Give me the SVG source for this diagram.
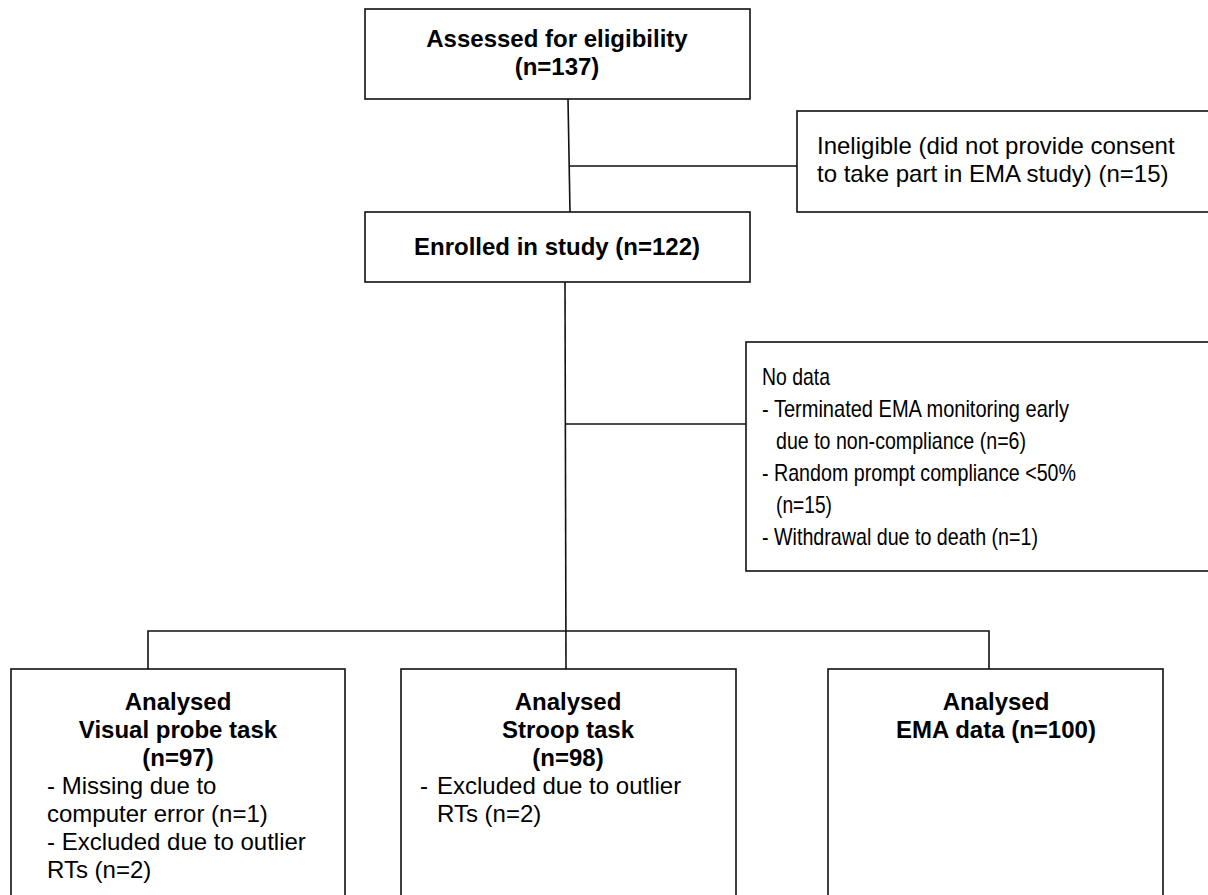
<svg xmlns="http://www.w3.org/2000/svg" width="1208" height="895" viewBox="0 0 1208 895">
<style>
  .box { fill: #fff; stroke: #111; stroke-width: 1.6; }
  .ln { fill: none; stroke: #111; stroke-width: 1.6; }
  text { font-family: "Liberation Sans", Arial, sans-serif; font-size: 24px; fill: #000; }
  .b { font-weight: bold; text-anchor: middle; }
</style>
<rect width="1208" height="895" fill="#fff"/>
<g id="connectors">
  <line class="ln" x1="568" y1="99" x2="570" y2="212"/>
  <line class="ln" x1="569" y1="166" x2="797" y2="166"/>
  <line class="ln" x1="565" y1="282" x2="566" y2="669"/>
  <line class="ln" x1="565" y1="424" x2="746" y2="424"/>
  <polyline class="ln" points="148,669 148,631 989,631 989,669"/>
</g>
<g id="assessed">
  <rect class="box" x="365" y="9" width="385" height="90"/>
  <text class="b" x="557" y="47">Assessed for eligibility</text>
  <text class="b" x="557" y="75">(n=137)</text>
</g>
<g id="ineligible">
  <rect class="box" x="797" y="111" width="420" height="101"/>
  <text x="817" y="154">Ineligible (did not provide consent</text>
  <text x="817" y="182">to take part in EMA study) (n=15)</text>
</g>
<g id="enrolled">
  <rect class="box" x="365" y="212" width="385" height="70"/>
  <text class="b" x="557" y="255">Enrolled in study (n=122)</text>
</g>
<g id="nodata">
  <rect class="box" x="746" y="342" width="470" height="229"/>
  <text x="762" y="385" textLength="68" lengthAdjust="spacingAndGlyphs">No data</text>
  <text x="762" y="417" textLength="307" lengthAdjust="spacingAndGlyphs">- Terminated EMA monitoring early</text>
  <text x="776" y="449" textLength="250" lengthAdjust="spacingAndGlyphs">due to non-compliance (n=6)</text>
  <text x="762" y="481" textLength="314" lengthAdjust="spacingAndGlyphs">- Random prompt compliance &lt;50%</text>
  <text x="776" y="513" textLength="56" lengthAdjust="spacingAndGlyphs">(n=15)</text>
  <text x="762" y="545" textLength="276" lengthAdjust="spacingAndGlyphs">- Withdrawal due to death (n=1)</text>
</g>
<g id="visual-probe">
  <rect class="box" x="11" y="669" width="334" height="240"/>
  <text class="b" x="178" y="710">Analysed</text>
  <text class="b" x="178" y="738">Visual probe task</text>
  <text class="b" x="178" y="766">(n=97)</text>
  <text x="47" y="794">- Missing due to</text>
  <text x="47" y="822">computer error (n=1)</text>
  <text x="47" y="850">- Excluded due to outlier</text>
  <text x="47" y="878">RTs (n=2)</text>
</g>
<g id="stroop">
  <rect class="box" x="401" y="669" width="335" height="240"/>
  <text class="b" x="568" y="710">Analysed</text>
  <text class="b" x="568" y="738">Stroop task</text>
  <text class="b" x="568" y="766">(n=98)</text>
  <text x="420" y="794">-</text>
  <text x="437" y="794">Excluded due to outlier</text>
  <text x="437" y="822">RTs (n=2)</text>
</g>
<g id="ema">
  <rect class="box" x="828" y="669" width="335" height="240"/>
  <text class="b" x="996" y="710">Analysed</text>
  <text class="b" x="996" y="738">EMA data (n=100)</text>
</g>
</svg>
